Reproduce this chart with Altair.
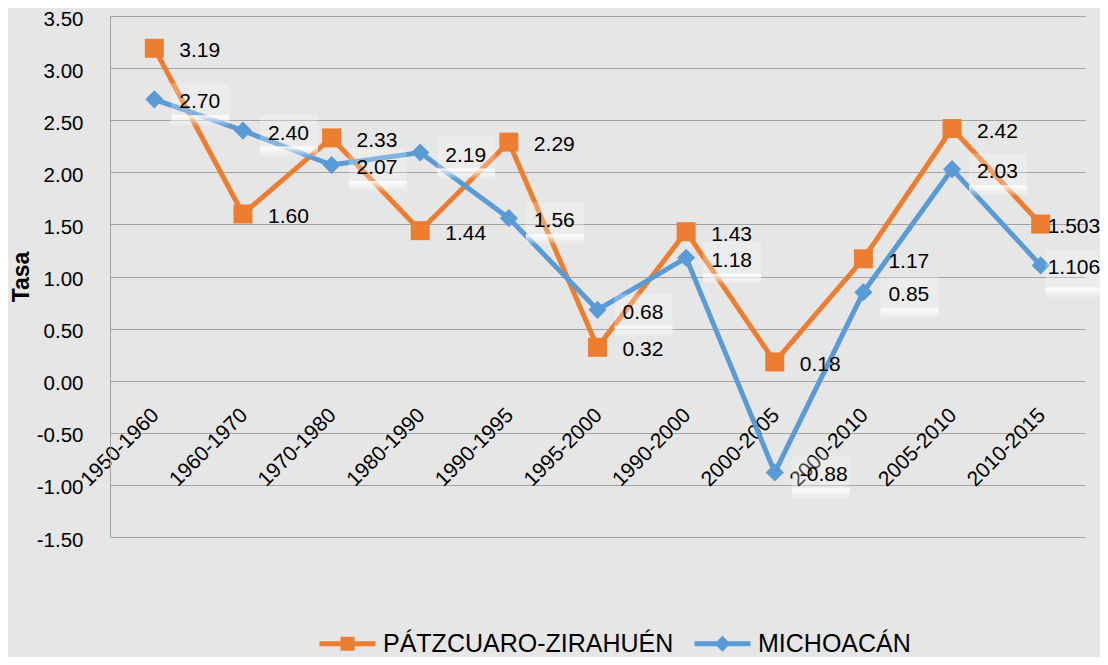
import altair as alt
import pandas as pd

periods = ["1950-1960", "1960-1970", "1970-1980", "1980-1990", "1990-1995",
           "1995-2000", "1990-2000", "2000-2005", "2000-2010", "2005-2010", "2010-2015"]
patz = [3.19, 1.60, 2.33, 1.44, 2.29, 0.32, 1.43, 0.18, 1.17, 2.42, 1.503]
mich = [2.70, 2.40, 2.07, 2.19, 1.56, 0.68, 1.18, -0.88, 0.85, 2.03, 1.106]
series_names = ["PÁTZCUARO-ZIRAHUÉN", "MICHOACÁN"]
colors = ["#ED7D31", "#5B9BD5"]
y_ticks = [-1.5, -1.0, -0.5, 0.0, 0.5, 1.0, 1.5, 2.0, 2.5, 3.0, 3.5]
y_title = "Tasa"


def fmt(v):
    s = f"{v:.3f}"
    if s.endswith("0"):
        s = f"{v:.2f}"
    return s


rows = []
for name, vals in zip(series_names, [patz, mich]):
    for p, v in zip(periods, vals):
        rows.append({"period": p, "series": name, "value": v, "label": fmt(v)})
df = pd.DataFrame(rows)

FONT = "Liberation Sans"
GRID = "#a3a3a3"
W, H = 975, 521
y0_px = (3.5 - 0.0) / 5.0 * H  # pixel position of y=0 from top

x_enc = alt.X(
    "period:N", sort=periods, scale=alt.Scale(domain=periods),
    axis=alt.Axis(
        title=None, domain=False, ticks=False, grid=False,
        labelAngle=315, labelAlign="right", labelBaseline="middle",
        labelPadding=31, labelOffset=1, offset=-(H - y0_px),
        labelFont=FONT, labelFontSize=21, labelColor="black",
        labelOverlap=False,
    ),
)
y_enc = alt.Y(
    "value:Q", scale=alt.Scale(domain=[-1.5, 3.5], nice=False, zero=False),
    axis=alt.Axis(
        title=y_title, values=y_ticks, grid=True, gridColor=GRID, gridWidth=1,
        domain=True, domainColor=GRID, domainWidth=1, ticks=False,
        labelExpr="(datum.value < 0 ? '-' : '') + format(abs(datum.value), '.2f')",
        labelFont=FONT, labelFontSize=20.5, labelColor="black", labelPadding=27,
        labelOffset=3,
        titleFont=FONT, titleFontSize=23, titleFontWeight="bold", titleColor="black",
        titleX=-89, titleBaseline="middle", titleAngle=270,
    ),
)

base = alt.Chart(df).encode(x=x_enc, y=y_enc)

layers = []
shapes = ["square", "diamond"]
sizes = [361, 330]
for name, col, shp, sz in zip(series_names, colors, shapes, sizes):
    sub = base.transform_filter(alt.datum.series == name)
    layers.append(sub.mark_line(color=col, strokeWidth=5))
    layers.append(sub.mark_point(shape=shp, filled=True, size=sz, color=col, opacity=1))

# soft label boxes behind the MICHOACÁN value labels
glow = alt.Gradient(
    gradient="linear", x1=0, x2=0, y1=0, y2=1,
    stops=[alt.GradientStop(color="rgba(255,255,255,0.9)", offset=0),
           alt.GradientStop(color="rgba(255,255,255,0)", offset=1)],
)
mich_sub = base.transform_filter(alt.datum.series == series_names[1])
box_paths = [
    (alt.datum.period != periods[-1], "M1.7,-1.6H7.5V1.8H1.7Z", "M1.7,1.6H7.5V2.7H1.7Z"),
    (alt.datum.period == periods[-1], "M0.5,-1.6H6.0V2.4H0.5Z", "M0.5,2.2H6.0V3.3H0.5Z"),
]
for cond, box_p, glow_p in box_paths:
    s = mich_sub.transform_filter(cond)
    layers.append(s.mark_point(shape=box_p, size=400, filled=True, color="white", opacity=0.25, strokeWidth=0))
    layers.append(s.mark_point(shape=glow_p, size=400, filled=True, fill=glow, opacity=1, strokeWidth=0))

for name in series_names:
    sub = base.transform_filter(alt.datum.series == name)
    layers.append(
        sub.transform_filter(alt.datum.period != periods[-1])
        .mark_text(align="left", baseline="middle", dx=25, dy=3, font=FONT, fontSize=21, color="black")
        .encode(text="label:N")
    )
    layers.append(
        sub.transform_filter(alt.datum.period == periods[-1])
        .mark_text(align="left", baseline="middle", dx=7, dy=3, font=FONT, fontSize=21, color="black")
        .encode(text="label:N")
    )

# legend symbols: a line with the series marker in its middle (unit = 10 px at size 400)
path_sq = "M-2.8,-0.25H2.8V0.25H-2.8Z M-0.7,-0.7H0.7V0.7H-0.7Z"
path_dm = "M-2.8,-0.25H2.8V0.25H-2.8Z M0,-0.8L0.8,0L0,0.8L-0.8,0Z"
leg = alt.Legend(
    title=None, orient="none", legendX=225, legendY=615, direction="horizontal",
    symbolSize=400, symbolStrokeWidth=0, symbolOpacity=1,
    labelFont=FONT, labelFontSize=25, labelColor="black", labelOffset=23,
    labelLimit=0, columnPadding=20, padding=0,
)
legend_layer = (
    base.transform_filter("false")
    .mark_point(filled=True, opacity=1)
    .encode(
        color=alt.Color("series:N", scale=alt.Scale(domain=series_names, range=colors), legend=leg),
        shape=alt.Shape("series:N", scale=alt.Scale(domain=series_names, range=[path_sq, path_dm]), legend=leg),
    )
)
layers.append(legend_layer)

chart = (
    alt.layer(*layers)
    .properties(
        width=W, height=H,
        autosize=alt.AutoSizeParams(type="none"),
        padding={"left": 102, "top": 8, "right": 15, "bottom": 120},
        background="#e6e6e6",
    )
    .configure_view(strokeWidth=0)
)

chart.save("out.html", embed_options={"renderer": "svg", "actions": False})
